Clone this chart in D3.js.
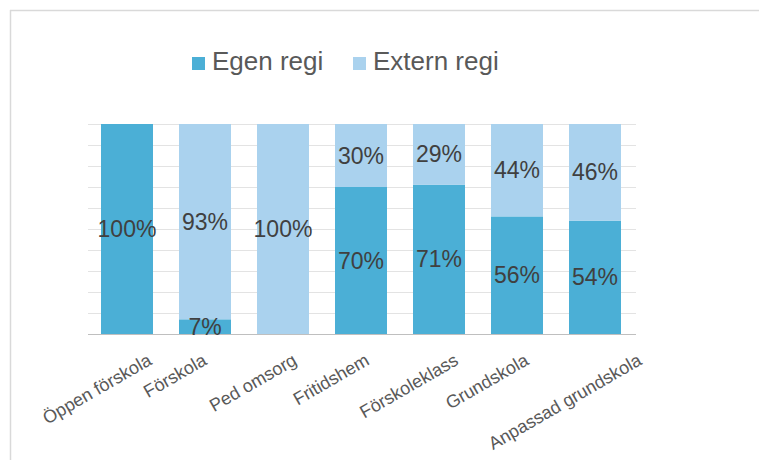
<!DOCTYPE html>
<html>
<head>
<meta charset="utf-8">
<script src="https://cdn.jsdelivr.net/npm/d3@7"></script>
<style>
  html, body { margin: 0; padding: 0; background: #fff; }
  svg { display: block; font-family: "Liberation Sans", Arial, sans-serif; }
</style>
</head>
<body>
<svg id="chart" width="759" height="460"></svg>
<script>
const categories = ["Öppen förskola", "Förskola", "Ped omsorg", "Fritidshem", "Förskoleklass", "Grundskola", "Anpassad grundskola"];
const seriesNames = ["Egen regi", "Extern regi"];
const egenRegi = [100, 7, 0, 70, 71, 56, 54];
const externRegi = [0, 93, 100, 30, 29, 44, 46];
const gridTicks = [0, 10, 20, 30, 40, 50, 60, 70, 80, 90, 100];
const colors = ["#4BAFD6", "#AAD2EE"];

const svg = d3.select("#chart");
const W = 759, H = 460;
const plot = { left: 88, right: 634, top: 124, bottom: 334 };

// frame
svg.append("line").attr("x1", 10).attr("x2", W).attr("y1", 10.5).attr("y2", 10.5)
  .attr("stroke", "#d9d9d9").attr("stroke-width", 1.5);
svg.append("line").attr("x1", 10.5).attr("x2", 10.5).attr("y1", 10).attr("y2", H)
  .attr("stroke", "#d9d9d9").attr("stroke-width", 1.5);

const x = d3.scaleBand().domain(categories).range([plot.left, plot.right])
  .paddingInner(1/3).paddingOuter(1/6);
const y = d3.scaleLinear().domain([0, 100]).range([plot.bottom, plot.top]);

// gridlines
svg.append("g").selectAll("line").data(gridTicks.filter(d => d > 0)).join("line")
  .attr("x1", plot.left).attr("x2", plot.right + 2)
  .attr("y1", d => y(d) + 0.5).attr("y2", d => y(d) + 0.5)
  .attr("stroke", "#e3e3e3").attr("stroke-width", 1);

const rows = categories.map((c, i) => ({ cat: c, vals: [egenRegi[i], externRegi[i]] }));
const stacked = d3.stack().keys([0, 1]).value((d, k) => d.vals[k])(rows);

const gBars = svg.append("g");
stacked.forEach((layer, k) => {
  gBars.append("g").selectAll("rect").data(layer).join("rect")
    .attr("x", d => x(d.data.cat))
    .attr("width", x.bandwidth())
    .attr("y", d => y(d[1]))
    .attr("height", d => y(d[0]) - y(d[1]))
    .attr("fill", colors[k]);
});

// axis line
svg.append("line").attr("x1", plot.left).attr("x2", plot.right + 2)
  .attr("y1", plot.bottom + 0.5).attr("y2", plot.bottom + 0.5)
  .attr("stroke", "#bfbfbf").attr("stroke-width", 1.2);

// data labels
const gLab = svg.append("g");
stacked.forEach((layer, k) => {
  gLab.append("g").selectAll("text").data(layer.filter(d => d[1] - d[0] > 0)).join("text")
    .attr("x", d => x(d.data.cat) + x.bandwidth() / 2)
    .attr("y", d => (y(d[0]) + y(d[1])) / 2)
    .attr("text-anchor", "middle")
    .attr("dominant-baseline", "central")
    .attr("font-size", 23)
    .attr("fill", "#404040")
    .text(d => (d[1] - d[0]) + "%");
});

// x labels, rotated -30deg
const gX = svg.append("g");
categories.forEach(c => {
  const t = gX.append("text")
    .attr("text-anchor", "middle")
    .attr("dominant-baseline", "central")
    .attr("font-size", 18)
    .attr("fill", "#595959")
    .text(c);
  const L = t.node().getComputedTextLength();
  const cx = x(c) + x.bandwidth() / 2 - 30;
  const cy = 353 + L / 4 + 5.6;
  t.attr("transform", `translate(${cx},${cy}) rotate(-30)`);
});

// legend
const legendItems = [
  { name: seriesNames[0], color: colors[0], sx: 192, tx: 212 },
  { name: seriesNames[1], color: colors[1], sx: 353, tx: 373 }
];
const gL = svg.append("g");
legendItems.forEach(it => {
  gL.append("rect").attr("x", it.sx).attr("y", 57).attr("width", 13).attr("height", 13).attr("fill", it.color);
  gL.append("text").attr("x", it.tx).attr("y", 70).attr("font-size", 26).attr("fill", "#595959").text(it.name);
});
</script>
</body>
</html>
